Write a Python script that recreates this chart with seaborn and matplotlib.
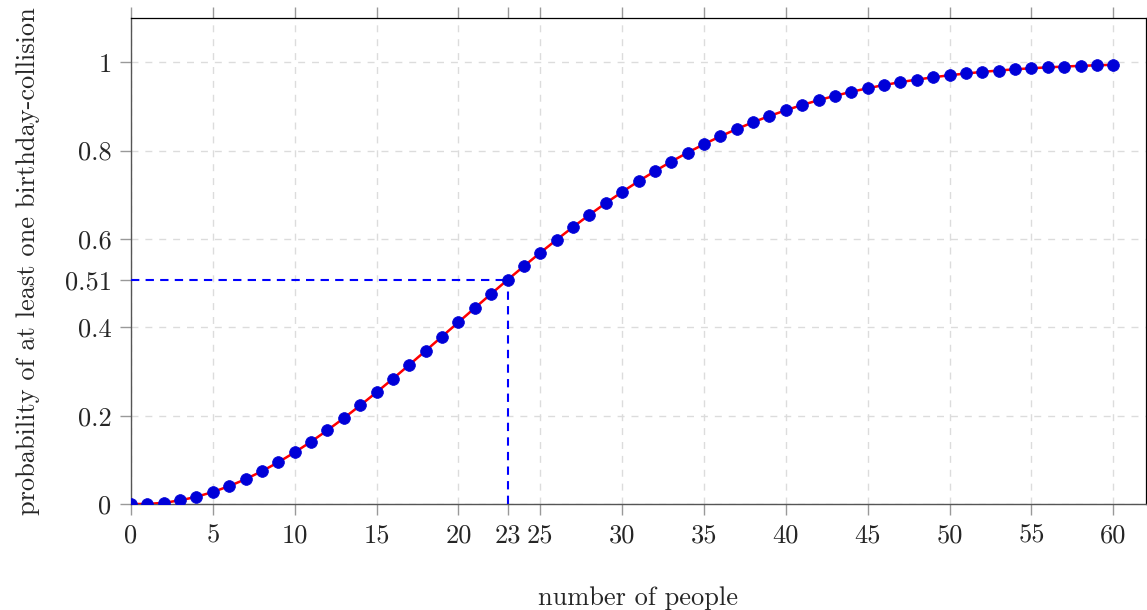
import numpy as np
import pandas as pd
import seaborn as sns
import matplotlib.pyplot as plt

# -----------------------------
# Data
# -----------------------------
people = list(range(0, 61))
probability = [
    0.0, 0.0, 0.0027, 0.0082, 0.0164, 0.0271, 0.0405, 0.0562, 0.0743, 0.0946,
    0.1169, 0.1411, 0.1670, 0.1944, 0.2231, 0.2529, 0.2836, 0.3150, 0.3469, 0.3791,
    0.4114, 0.4437, 0.4757, 0.5073, 0.5383, 0.5687, 0.5982, 0.6269, 0.6545, 0.6810,
    0.7063, 0.7305, 0.7533, 0.7750, 0.7953, 0.8144, 0.8322, 0.8487, 0.8641, 0.8782,
    0.8912, 0.9032, 0.9140, 0.9239, 0.9329, 0.9410, 0.9483, 0.9548, 0.9606, 0.9658,
    0.9704, 0.9744, 0.9780, 0.9811, 0.9839, 0.9863, 0.9883, 0.9901, 0.9917, 0.9930,
    0.9941,
]
x_ticks = [0, 5, 10, 15, 20, 23, 25, 30, 35, 40, 45, 50, 55, 60]
y_tick_labels = ["0", "0.2", "0.4", "0.51", "0.6", "0.8", "1"]
mark_n = 23
mark_p = 0.5073

df = pd.DataFrame({"people": people, "probability": probability})

# -----------------------------
# Style
# -----------------------------
sns.set_style("white")
plt.rcParams["font.family"] = ["cmr10", "DejaVu Serif"]
plt.rcParams["axes.formatter.use_mathtext"] = True

fig = plt.figure(figsize=(11.47, 6.1), dpi=100)
ax = fig.add_axes([131 / 1147, 1 - 504 / 610, (1146 - 131) / 1147, (504 - 18) / 610])

# grid
for xv in [0, 5, 10, 15, 20, 25, 30, 35, 40, 45, 50, 55, 60]:
    ax.axvline(xv, color="#dcdcdc", lw=1, ls=(0, (5, 5)), zorder=0)
for yv in [0, 0.2, 0.4, 0.6, 0.8, 1]:
    ax.axhline(yv, color="#dcdcdc", lw=1, ls=(0, (5, 5)), zorder=0)

# blue data line, red curve, markers
sns.lineplot(data=df, x="people", y="probability", ax=ax,
             color="blue", lw=0.8, zorder=2)
sns.lineplot(data=df, x="people", y="probability", ax=ax,
             color="red", lw=1.8, zorder=3)
sns.scatterplot(data=df, x="people", y="probability", ax=ax,
                color="#0000d8", s=72, edgecolor="#0000d8", linewidth=0.5,
                zorder=4)

# dashed marker lines at 23 people
ax.plot([0, mark_n], [mark_p, mark_p], color="blue", lw=1.5,
        ls=(0, (4, 3)), zorder=3)
ax.plot([mark_n, mark_n], [0, mark_p], color="blue", lw=1.5,
        ls=(0, (4, 3)), zorder=3)

ax.set_xlim(0, 62)
ax.set_ylim(0, 1.1)
ax.set_xticks(x_ticks)
ax.set_xticklabels([str(v) for v in x_ticks])
ax.set_yticks([0, 0.2, 0.4, mark_p, 0.6, 0.8, 1])
ax.set_yticklabels(y_tick_labels)

ax.tick_params(axis="both", which="both", direction="out", length=8,
               width=1, color="#999999", labelsize=19, pad=6)
ax.tick_params(axis="x", top=True, bottom=True)
ax.tick_params(axis="y", left=True, right=False)

for side in ["top", "right"]:
    ax.spines[side].set_color("black")
    ax.spines[side].set_linewidth(0.9)
for side in ["left", "bottom"]:
    ax.spines[side].set_color("#555555")
    ax.spines[side].set_linewidth(1.0)

ax.set_xlabel("number of people", fontsize=19, labelpad=28)
ax.set_ylabel("probability of at least one birthday-collision", fontsize=19,
              labelpad=18)

fig.savefig("out.png", dpi=100)
